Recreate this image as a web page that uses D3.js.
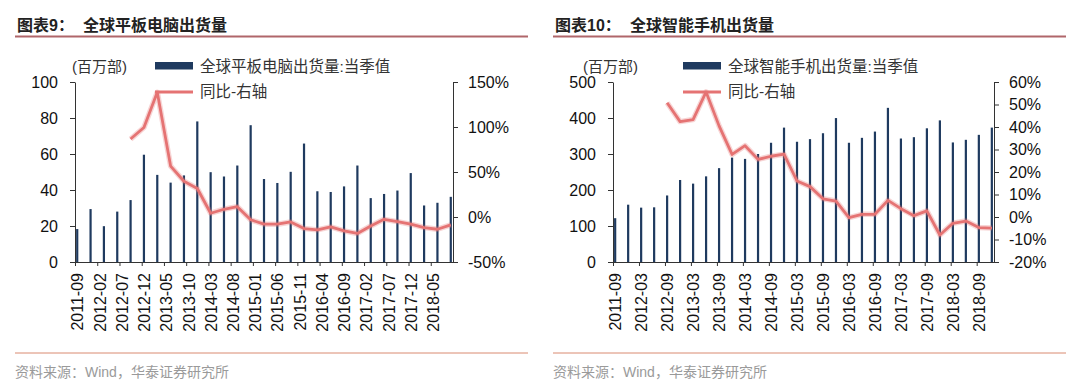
<!DOCTYPE html>
<html>
<head>
<meta charset="utf-8">
<script src="https://cdn.jsdelivr.net/npm/d3@7"></script>
<style>
  body { margin: 0; background: #fff; }
  svg text { font-family: "Liberation Sans", Arial, "Noto Sans CJK SC", sans-serif; }
  .cjk { font-family: "Liberation Sans", "Noto Sans CJK SC", sans-serif; }
</style>
</head>
<body>
<div id="chart"></div>
<script>
//////////////////////////// data ////////////////////////////
const tabletQuarters = [
  "2011-09", "2011-12", "2012-03", "2012-06", "2012-09", "2012-12", "2013-03", "2013-06",
  "2013-09", "2013-12", "2014-03", "2014-06", "2014-09", "2014-12", "2015-03", "2015-06",
  "2015-09", "2015-12", "2016-03", "2016-06", "2016-09", "2016-12", "2017-03", "2017-06",
  "2017-09", "2017-12", "2018-03", "2018-06", "2018-09",
];
// 百万部
const tabletShipments = [
  18.3, 29.4, 19.9, 28, 34.4, 59.6, 48.4, 44.1, 48.1, 78.1, 49.9, 47.5, 53.6, 76, 46.1,
  43.9, 50.1, 65.8, 39.3, 38.9, 42, 53.6, 35.5, 37.8, 39.7, 49.4, 31.4, 32.9, 36.2,
];
// %
const tabletYoY = [
  null, null, null, null, 86.6, 99.5, 138.6, 56.6, 39.7, 31.7, 4.2, 8.6, 11.5, -3.1, -8,
  -8, -5.5, -12.8, -14.3, -11, -15.4, -18.3, -9.9, -2.6, -5.1, -8, -11.7, -13.6, -8.8,
];
const tabletTicks = [
  "2011-09", "2012-02", "2012-07", "2012-12", "2013-05", "2013-10", "2014-03", "2014-08",
  "2015-01", "2015-06", "2015-11", "2016-04", "2016-09", "2017-02", "2017-07", "2017-12",
  "2018-05",
];

const phoneQuarters = tabletQuarters.concat(["2018-12"]);
const phoneShipments = [
  121.7, 159.2, 151, 151.9, 184.8, 227.8, 217.7, 237.9, 260.7, 290, 286.4, 300, 331.2,
  373.3, 334, 341.3, 357.7, 399.8, 331.2, 344.9, 362.3, 428.2, 343, 346.7, 371.4, 393.4,
  332.1, 339.4, 353.2, 373.3,
];
const phoneYoY = [
  null, null, null, null, 50.8, 42.4, 43.3, 55.6, 40.5, 27.8, 31.7, 25.6, 27, 27.9, 16,
  13.5, 8.1, 7.1, -0.3, 1.2, 1.2, 7.4, 3.7, 0.6, 2.7, -8, -2.8, -1.8, -4.7, -4.9,
];
const phoneTicks = [
  "2011-09", "2012-03", "2012-09", "2013-03", "2013-09", "2014-03", "2014-09", "2015-03",
  "2015-09", "2016-03", "2016-09", "2017-03", "2017-09", "2018-03", "2018-09",
];

const tabletLeftTicks = [0, 20, 40, 60, 80, 100];
const tabletRightTicks = [-50, 0, 50, 100, 150];
const phoneLeftTicks = [0, 100, 200, 300, 400, 500];
const phoneRightTicks = [-20, -10, 0, 10, 20, 30, 40, 50, 60];

//////////////////////////// init ////////////////////////////
const width = 1080, height = 381;
const barColor = "#1f3a5f";
const lineColor = "#e57373";

const svg = d3.select("#chart").append("svg")
  .attr("width", width).attr("height", height);

// months since 2011-09
const monthIdx = (s) => {
  const [y, m] = s.split("-").map(Number);
  return (y - 2011) * 12 + (m - 9);
};

const panels = [
  {
    num: "图表9：", title: "全球平板电脑出货量", tx: 17, tx2: 83, lx0: 15, lx1: 528,
    barName: "全球平板电脑出货量:当季值",
    quarters: tabletQuarters, bars: tabletShipments, yoy: tabletYoY, ticks: tabletTicks,
    leftTicks: tabletLeftTicks, rightTicks: tabletRightTicks,
    leftMax: 100, rightMin: -50, rightMax: 150, last: "2018-09",
    x0: 75, x1: 453, unitX: 72, legX: 155,
  },
  {
    num: "图表10：", title: "全球智能手机出货量", tx: 555, tx2: 630, lx0: 553, lx1: 1066,
    barName: "全球智能手机出货量:当季值",
    quarters: phoneQuarters, bars: phoneShipments, yoy: phoneYoY, ticks: phoneTicks,
    leftTicks: phoneLeftTicks, rightTicks: phoneRightTicks,
    leftMax: 500, rightMin: -20, rightMax: 60, last: "2018-12",
    x0: 613, x1: 994, unitX: 583, legX: 683,
  },
];

const plotTop = 82, plotBottom = 262;

panels.forEach((p) => {
  const g = svg.append("g");

  // title
  const t = g.append("text").attr("class", "cjk").attr("y", 31)
    .attr("font-size", 16).attr("font-weight", "bold").attr("fill", "#222");
  t.append("tspan").attr("x", p.tx).text(p.num);
  t.append("tspan").attr("x", p.tx2).text(p.title);

  g.append("line").attr("x1", p.lx0).attr("x2", p.lx1).attr("y1", 36.5).attr("y2", 36.5)
    .attr("stroke", "#b0666a").attr("stroke-width", 2);
  g.append("line").attr("x1", p.lx0).attr("x2", p.lx1).attr("y1", 353).attr("y2", 353)
    .attr("stroke", "#d98a70").attr("stroke-width", 1);
  g.append("text").attr("class", "cjk").attr("x", p.lx0).attr("y", 377)
    .attr("font-size", 14).attr("fill", "#9a9a9a").text("资料来源：Wind，华泰证券研究所");

  // scales
  const nMonths = monthIdx(p.last) + 1;
  const x = d3.scaleLinear().domain([-0.5, nMonths - 0.5]).range([p.x0, p.x1]);
  const yL = d3.scaleLinear().domain([0, p.leftMax]).range([plotBottom, plotTop]);
  const yR = d3.scaleLinear().domain([p.rightMin, p.rightMax]).range([plotBottom, plotTop]);

  // bars
  g.selectAll("rect.bar").data(p.bars).enter().append("rect")
    .attr("class", "bar")
    .attr("x", (d, i) => x(monthIdx(p.quarters[i])) - 1.1)
    .attr("y", (d) => yL(d))
    .attr("width", 2.2)
    .attr("height", (d) => yL(0) - yL(d))
    .attr("fill", barColor);

  // line
  const line = d3.line()
    .defined((d) => d !== null)
    .x((d, i) => x(monthIdx(p.quarters[i])))
    .y((d) => yR(d));
  g.append("path").datum(p.yoy).attr("d", line).attr("fill", "none")
    .attr("stroke", lineColor).attr("stroke-opacity", 0.3).attr("stroke-width", 5.5)
    .attr("stroke-linejoin", "round");
  g.append("path").datum(p.yoy).attr("d", line).attr("fill", "none")
    .attr("stroke", lineColor).attr("stroke-width", 2.8).attr("stroke-linejoin", "round");

  // axes
  const axL = g.append("g").attr("transform", `translate(${p.x0},0)`)
    .call(d3.axisLeft(yL).tickValues(p.leftTicks).tickSize(5).tickSizeOuter(0).tickPadding(12));
  const axR = g.append("g").attr("transform", `translate(${p.x1},0)`)
    .call(d3.axisRight(yR).tickValues(p.rightTicks).tickSize(5).tickSizeOuter(0).tickPadding(10)
      .tickFormat((d) => d + "%"));

  // x: tick marks at month boundaries, labels at month centres
  const tickIdx = p.ticks.map(monthIdx);
  g.append("g").attr("transform", `translate(0,${plotBottom})`)
    .call(d3.axisBottom(x).tickValues(tickIdx.map((d) => d - 0.5)).tickSize(4)
      .tickSizeOuter(0).tickFormat(""));
  const axB = g.append("g").attr("transform", `translate(0,${plotBottom})`)
    .call(d3.axisBottom(x).tickValues(tickIdx).tickSize(0).tickFormat((d, i) => p.ticks[i]));
  axB.select(".domain").remove();
  axB.selectAll("text")
    .attr("transform", "rotate(-90)")
    .attr("x", -11).attr("y", 0).attr("dy", "0.35em")
    .attr("text-anchor", "end");

  [axL, axR, axB].forEach((a) => {
    a.selectAll("text").attr("font-size", 16).attr("fill", "#111")
      .attr("font-family", "'Liberation Sans', Arial, sans-serif");
  });
  g.selectAll(".domain, .tick line").attr("stroke", "#333");

  // legend
  g.append("text").attr("class", "cjk").attr("x", p.unitX).attr("y", 72)
    .attr("font-size", 15).attr("fill", "#333").text("(百万部)");
  g.append("rect").attr("x", p.legX).attr("y", 62).attr("width", 38).attr("height", 7.5)
    .attr("fill", barColor);
  g.append("text").attr("class", "cjk").attr("x", p.legX + 45).attr("y", 72)
    .attr("font-size", 15.5).attr("fill", "#333").text(p.barName);
  g.append("line").attr("x1", p.legX).attr("x2", p.legX + 38).attr("y1", 92).attr("y2", 92)
    .attr("stroke", lineColor).attr("stroke-width", 2.8);
  g.append("text").attr("class", "cjk").attr("x", p.legX + 45).attr("y", 97)
    .attr("font-size", 15.5).attr("fill", "#333").text("同比-右轴");
});
</script>
</body>
</html>
